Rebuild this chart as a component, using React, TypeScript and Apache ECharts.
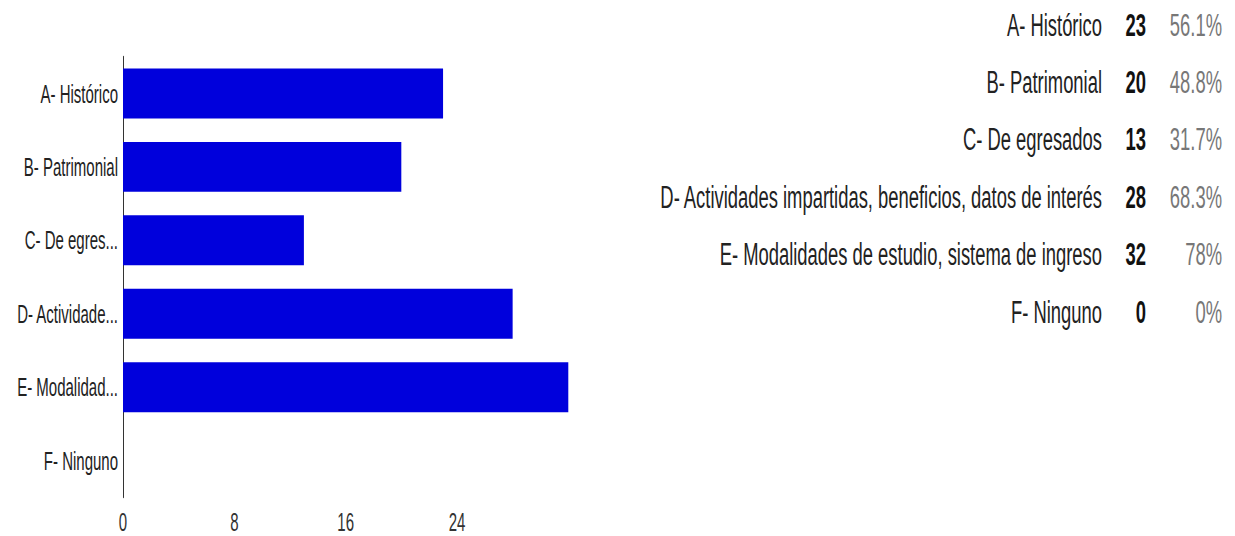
import React, { useEffect, useRef } from "react";
import * as echarts from "echarts";

// ---- data ----
const categories = [
  "A- Histórico",
  "B- Patrimonial",
  "C- De egresados",
  "D- Actividades impartidas, beneficios, datos de interés",
  "E- Modalidades de estudio, sistema de ingreso",
  "F- Ninguno",
];
const axisTickLabels = [
  "A- Histórico",
  "B- Patrimonial",
  "C- De egres...",
  "D- Actividade...",
  "E- Modalidad...",
  "F- Ninguno",
];
const counts = [23, 20, 13, 28, 32, 0];
const percents = ["56.1%", "48.8%", "31.7%", "68.3%", "78%", "0%"];
const xTicks = [0, 8, 16, 24, 32];

// ---- layout (the reference image is stretched vertically) ----
const W = 1235;
const S = 1.72;
const H = 536 / S;
const FONT = "Arial, 'Liberation Sans', sans-serif";

export default function App() {
  const ref = useRef<HTMLDivElement>(null);

  useEffect(() => {
    if (!ref.current) return;
    const chart = echarts.init(ref.current, undefined, { renderer: "svg" });

    const rowY0 = 24.5 / S;
    const rowStep = 57.4 / S;
    const legend: any[] = [];
    categories.forEach((c, i) => {
      const y = rowY0 + rowStep * i;
      legend.push({
        type: "text",
        x: 1102,
        y,
        style: {
          text: c,
          font: `18.4px ${FONT}`,
          fill: "#222",
          align: "right",
          verticalAlign: "middle",
        },
      });
      legend.push({
        type: "text",
        x: 1146,
        y,
        style: {
          text: String(counts[i]),
          font: `bold 18.4px ${FONT}`,
          fill: "#111",
          align: "right",
          verticalAlign: "middle",
        },
      });
      legend.push({
        type: "text",
        x: 1222,
        y,
        style: {
          text: percents[i],
          font: `18.4px ${FONT}`,
          fill: "#777",
          align: "right",
          verticalAlign: "middle",
        },
      });
    });

    chart.setOption({
      animation: false,
      backgroundColor: "#ffffff",
      textStyle: { fontFamily: FONT },
      grid: {
        left: 123,
        right: W - 568.3,
        top: 56.7 / S,
        bottom: 39.3 / S,
        containLabel: false,
      },
      xAxis: {
        type: "value",
        min: xTicks[0],
        max: xTicks[xTicks.length - 1],
        interval: 8,
        axisLine: { show: false },
        axisTick: { show: false },
        splitLine: { show: false },
        axisLabel: {
          showMaxLabel: false,
          fontSize: 15,
          color: "#333",
          margin: 7,
          fontFamily: FONT,
        },
      },
      yAxis: {
        type: "category",
        inverse: true,
        data: categories,
        axisLine: { show: true, lineStyle: { color: "#333", width: 1 } },
        axisTick: { show: false },
        splitLine: { show: false },
        axisLabel: {
          fontSize: 15,
          color: "#222",
          margin: 5,
          fontFamily: FONT,
          formatter: (_v: string, idx: number) => axisTickLabels[idx],
        },
      },
      series: [
        {
          type: "bar",
          data: counts,
          barCategoryGap: "32%",
          itemStyle: { color: "#0000DC" },
        },
      ],
      graphic: legend,
    });

    return () => chart.dispose();
  }, []);

  return (
    <div
      ref={ref}
      style={{
        position: "absolute",
        left: 0,
        top: 0,
        width: W,
        height: H,
        transform: `scaleY(${S})`,
        transformOrigin: "0 0",
      }}
    />
  );
}
